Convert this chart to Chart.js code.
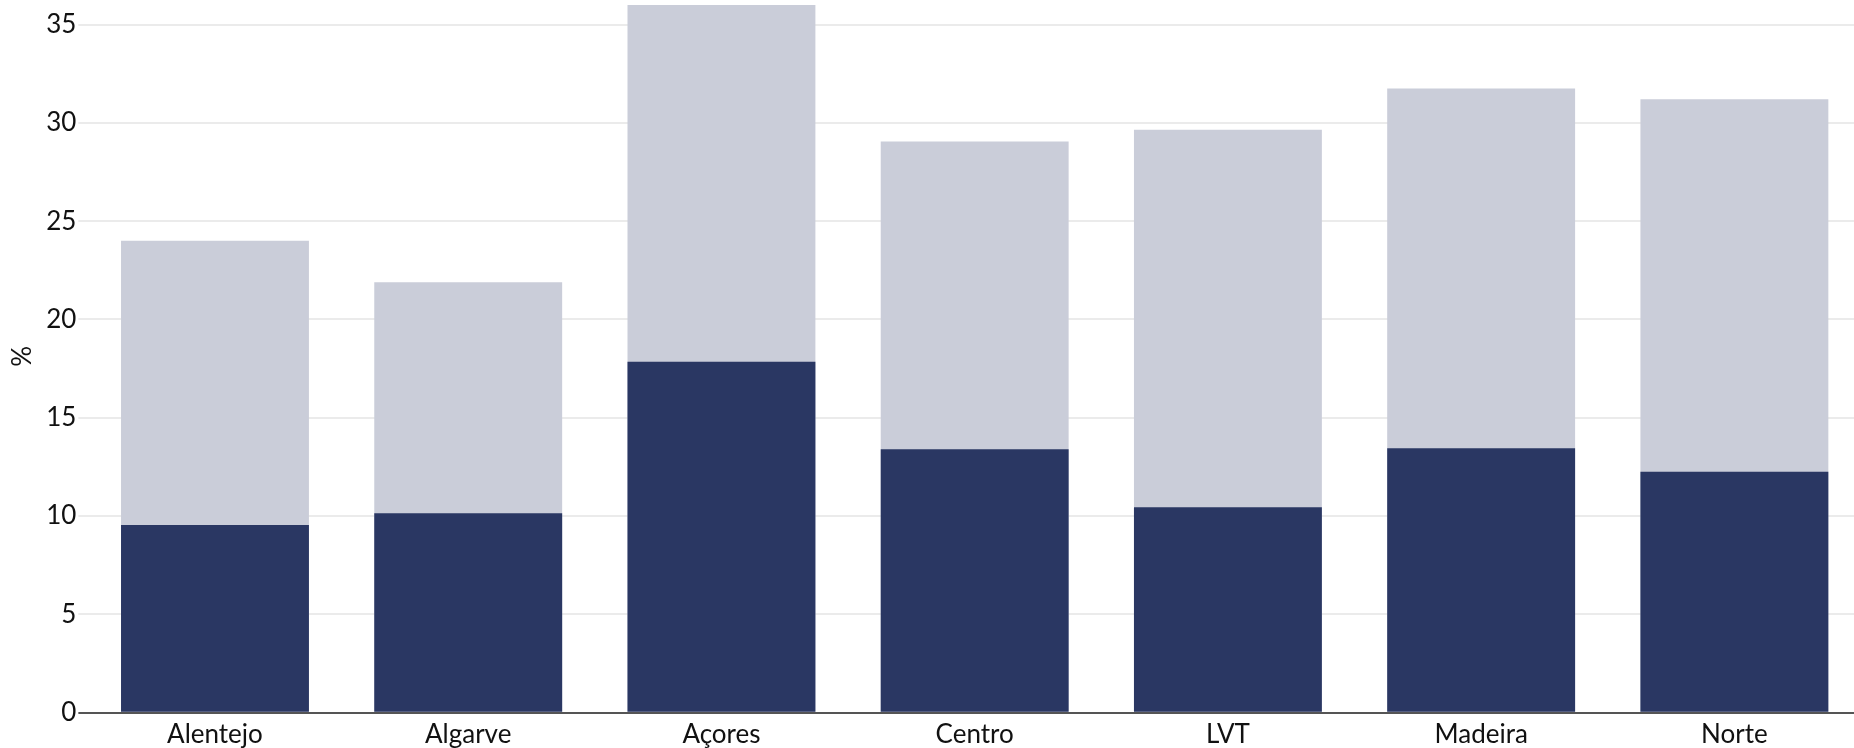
<!DOCTYPE html>
<html>
<head>
<meta charset="utf-8">
<script src="https://cdn.jsdelivr.net/npm/chart.js@4"></script>
<style>
  html, body { margin: 0; background: #fff; overflow: hidden; }
  #wrap { width: 1861px; height: 748px; }
</style>
</head>
<body>
<div id="wrap"><canvas id="myChart"></canvas></div>
<script>
// regions and values (%)
const regions = ['Alentejo', 'Algarve', 'Açores', 'Centro', 'LVT', 'Madeira', 'Norte'];
const totalValues = [24.0, 21.9, 36.0, 29.05, 29.65, 31.75, 31.2];   // light bars
const partValues = [9.55, 10.15, 17.85, 13.4, 10.45, 13.45, 12.25];  // dark bars
const yTicks = [0, 5, 10, 15, 20, 25, 30, 35];

const ctx = document.getElementById('myChart');
const myChart = new Chart(ctx, {
    type: 'bar',
    data: {
        labels: regions,
        datasets: [
            {
                label: 'Parte',
                data: partValues,
                backgroundColor: '#2a3763',
                borderWidth: 0
            },
            {
                label: 'Total',
                data: totalValues,
                backgroundColor: '#cacdd9',
                borderWidth: 0
            }
        ]
    },
    options: {
        responsive: true,
        maintainAspectRatio: false,
        devicePixelRatio: 1,
        animation: false,
        layout: { padding: { top: 0, right: 0, left: 2, bottom: 0 } },
        datasets: {
            bar: { categoryPercentage: 1, barPercentage: 0.742 }
        },
        scales: {
            x: {
                stacked: true,              // both bars on same slot, overlapping
                grid: { display: false },
                border: { display: true, color: '#555555', width: 2 },
                afterFit: s => { s.paddingRight = 0; },
                ticks: {
                    color: '#111',
                    padding: 0,
                    font: { family: 'Lato', size: 26, lineHeight: 1.05 }
                }
            },
            y: {
                stacked: false,
                min: 0,
                max: 36.25,
                afterBuildTicks: scale => {
                    scale.ticks = yTicks.map(v => ({ value: v }));
                },
                afterFit: s => { s.paddingTop = 0; },
                border: { display: false },
                grid: {
                    color: c => (c.tick && c.tick.value === 0) ? '#555555' : '#ebebeb',
                    lineWidth: 2,
                    tickLength: 10
                },
                ticks: {
                    color: '#111',
                    padding: 2,
                    font: { family: 'Lato', size: 26 }
                },
                title: {
                    display: true,
                    text: '%',
                    color: '#111',
                    padding: { top: 5, bottom: 6 },
                    font: { family: 'Lato', size: 26 }
                }
            }
        },
        plugins: {
            legend: { display: false },
            tooltip: { enabled: false }
        }
    }
});
</script>
</body>
</html>
